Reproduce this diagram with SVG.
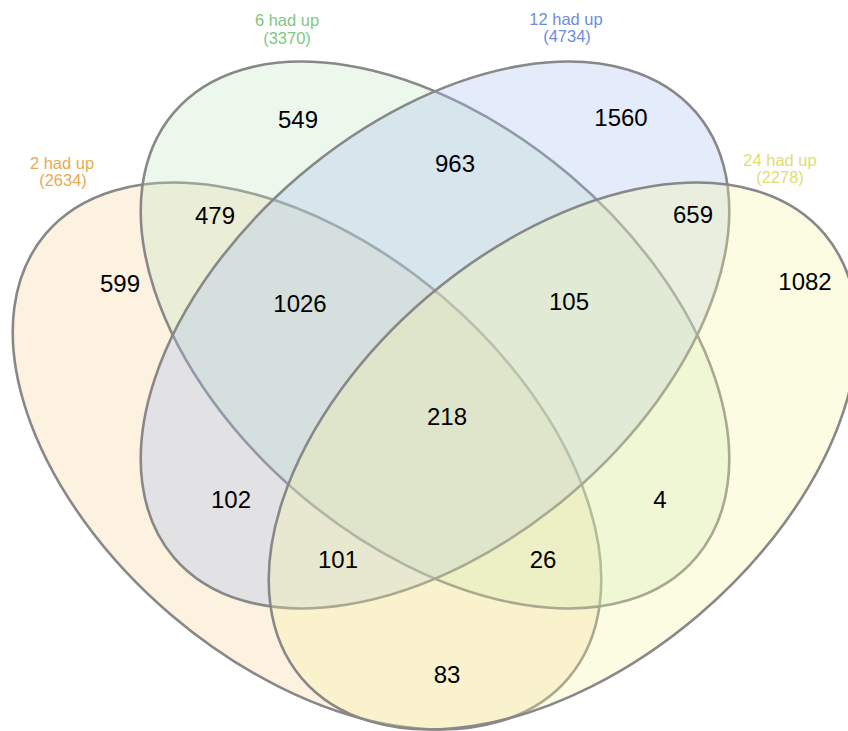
<svg xmlns="http://www.w3.org/2000/svg" width="848" height="731" viewBox="0 0 848 731">
<style>
.set{stroke:#888888;stroke-width:2.6;fill-opacity:0.3}
.num{font-family:"Liberation Sans",Arial,sans-serif;font-size:24px;fill:#000;text-anchor:middle}
.lbl{font-family:"Liberation Sans",Arial,sans-serif;font-size:16.5px;text-anchor:middle}
</style>
<rect width="848" height="731" fill="#ffffff"/>
<g id="set-2h">
<ellipse class="set" cx="307" cy="456" rx="343" ry="209" transform="rotate(40.4 307 456)" fill="rgb(248,208,152)"/>
</g>
<g id="set-6h">
<ellipse class="set" cx="435" cy="335" rx="343" ry="209" transform="rotate(40.4 435 335)" fill="rgb(192,232,192)"/>
</g>
<g id="set-12h">
<ellipse class="set" cx="435" cy="335" rx="343" ry="209" transform="rotate(-40.4 435 335)" fill="rgb(165,190,240)"/>
</g>
<g id="set-24h">
<ellipse class="set" cx="563" cy="456" rx="343" ry="209" transform="rotate(-40.4 563 456)" fill="rgb(245,245,158)"/>
</g>
<g id="connectors"></g>
<g id="labels">
<text class="lbl" x="62" y="169" fill="rgb(232,170,82)">2 had up</text>
<text class="lbl" x="63" y="186" fill="rgb(232,170,82)">(2634)</text>
<text class="lbl" x="287" y="26" fill="rgb(128,200,128)">6 had up</text>
<text class="lbl" x="287" y="44" fill="rgb(128,200,128)">(3370)</text>
<text class="lbl" x="566" y="25" fill="rgb(110,140,220)">12 had up</text>
<text class="lbl" x="567" y="42" fill="rgb(110,140,220)">(4734)</text>
<text class="lbl" x="780" y="166" fill="rgb(222,222,110)">24 had up</text>
<text class="lbl" x="780" y="183" fill="rgb(222,222,110)">(2278)</text>
</g>
<g id="counts">
<text class="num" x="120" y="292">599</text>
<text class="num" x="298" y="128">549</text>
<text class="num" x="621" y="126">1560</text>
<text class="num" x="805" y="290">1082</text>
<text class="num" x="215" y="224">479</text>
<text class="num" x="455" y="172">963</text>
<text class="num" x="693" y="223">659</text>
<text class="num" x="300" y="312">1026</text>
<text class="num" x="569" y="310">105</text>
<text class="num" x="447" y="425">218</text>
<text class="num" x="231" y="508">102</text>
<text class="num" x="660" y="508">4</text>
<text class="num" x="338" y="568">101</text>
<text class="num" x="543" y="568">26</text>
<text class="num" x="447" y="683">83</text>
</g>
</svg>
